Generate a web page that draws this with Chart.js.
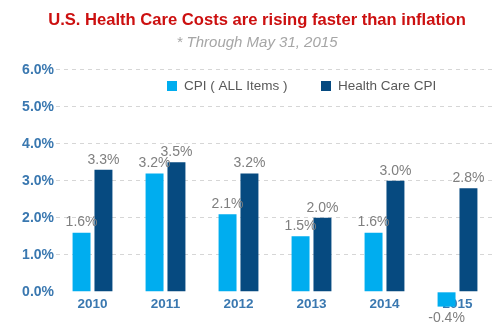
<!DOCTYPE html>
<html>
<head>
<meta charset="utf-8">
<script src="https://cdn.jsdelivr.net/npm/chart.js@4"></script>
<style>
  html, body { margin: 0; padding: 0; background: #fff; }
  #wrap { width: 500px; height: 326px; }
</style>
</head>
<body>
<div id="wrap"><canvas id="costChart"></canvas></div>
<script>
// data
const years = ['2010', '2011', '2012', '2013', '2014', '2015'];
const cpiAll = [1.6, 3.2, 2.1, 1.5, 1.6, -0.4];
const healthCpi = [3.3, 3.5, 3.2, 2.0, 3.0, 2.8];
const seriesNames = ['CPI ( ALL Items )', 'Health Care CPI'];
const yTicks = [0, 1, 2, 3, 4, 5, 6];

const FONT = "'Liberation Sans', Arial, sans-serif";

// value labels above (or below) each bar
const barLabels = {
    id: 'barLabels',
    afterDatasetsDraw(chart) {
        const ctx = chart.ctx;
        ctx.save();
        ctx.font = '14px ' + FONT;
        ctx.fillStyle = '#7f7f7f';
        ctx.textAlign = 'center';
        chart.data.datasets.forEach((ds, i) => {
            chart.getDatasetMeta(i).data.forEach((bar, j) => {
                const v = ds.data[j];
                const txt = v.toFixed(1) + '%';
                if (v >= 0) {
                    ctx.textBaseline = 'bottom';
                    ctx.fillText(txt, bar.x, bar.y - 3);
                } else {
                    ctx.textBaseline = 'top';
                    ctx.fillText(txt, bar.x, bar.y + 5);
                }
            });
        });
        ctx.restore();
    }
};

// legend drawn inside the plot area
const innerLegend = {
    id: 'innerLegend',
    afterDraw(chart) {
        const ctx = chart.ctx;
        const y = 86;
        const xs = [167, 321];
        ctx.save();
        ctx.font = '13.5px ' + FONT;
        ctx.textBaseline = 'middle';
        chart.data.datasets.forEach((ds, i) => {
            ctx.fillStyle = ds.backgroundColor;
            ctx.fillRect(xs[i], y - 5, 10, 10);
            ctx.fillStyle = '#595959';
            ctx.fillText(ds.label, xs[i] + 17, y);
        });
        ctx.restore();
    }
};

new Chart(document.getElementById('costChart'), {
    type: 'bar',
    data: {
        labels: years,
        datasets: [{
            label: seriesNames[0],
            data: cpiAll,
            backgroundColor: '#00adef',
            categoryPercentage: 0.6,
            barPercentage: 0.82
        }, {
            label: seriesNames[1],
            data: healthCpi,
            backgroundColor: '#064a80',
            categoryPercentage: 0.6,
            barPercentage: 0.82
        }]
    },
    options: {
        responsive: true,
        maintainAspectRatio: false,
        animation: false,
        layout: {
            padding: { top: 10, right: 6, bottom: 12, left: 20 }
        },
        plugins: {
            legend: { display: false },
            tooltip: { enabled: false },
            title: {
                display: true,
                text: 'U.S. Health Care Costs are rising faster than inflation',
                color: '#cc1010',
                font: { family: FONT, size: 16.6, weight: 'bold' },
                padding: { top: 0, bottom: 4 }
            },
            subtitle: {
                display: true,
                text: '* Through May 31, 2015',
                color: '#a6a6a6',
                font: { family: FONT, size: 15, style: 'italic' },
                padding: { top: 0, bottom: 18 }
            }
        },
        scales: {
            x: {
                position: { y: 0 },
                z: 1,
                grid: { display: false },
                border: { display: false },
                ticks: {
                    color: '#3a78b0',
                    font: { family: FONT, size: 13.5, weight: 'bold' },
                    padding: -4
                }
            },
            y: {
                min: -0.6,
                max: 6,
                afterBuildTicks(scale) {
                    scale.ticks = [{ value: -0.6 }].concat(yTicks.map(v => ({ value: v })));
                },
                afterFit(scale) { scale.width = 36; },
                grid: {
                    drawTicks: false,
                    color: c => (c.tick && c.tick.value > 0) ? '#d6d6d6' : 'rgba(0,0,0,0)',
                    lineWidth: 1
                },
                border: { display: false, dash: [4, 4] },
                ticks: {
                    color: '#3a78b0',
                    font: { family: FONT, size: 14, weight: 'bold' },
                    padding: 2,
                    callback: v => v < 0 ? '' : v.toFixed(1) + '%'
                }
            }
        }
    },
    plugins: [barLabels, innerLegend]
});
</script>
</body>
</html>
